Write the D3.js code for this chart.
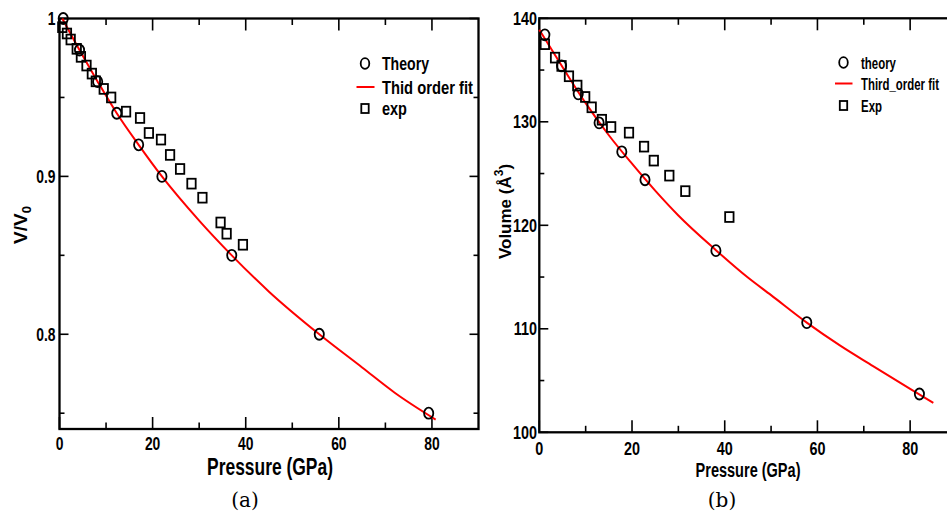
<!DOCTYPE html>
<html><head><meta charset="utf-8">
<script src="https://cdn.jsdelivr.net/npm/d3@7"></script>
<style>
body{margin:0;background:#fff;}
svg{display:block;}
</style></head>
<body><svg id="c" width="947" height="513"></svg>
<script>
// ---------- data (a) ----------
const theoryP_a = [0.8, 4.3, 8.2, 12.3, 17.0, 22.0, 37.0, 55.8, 79.3];
const theoryV_a = [1.0, 0.980, 0.960, 0.940, 0.920, 0.900, 0.850, 0.800, 0.750];
const expP_a = [0.6, 1.6, 2.4, 3.7, 4.6, 5.8, 6.95, 7.8, 9.5, 11.1, 14.3, 17.3, 19.2, 21.8, 23.75, 25.9, 28.35, 30.7, 34.6, 35.9, 39.4];
const expV_a = [0.9945, 0.9905, 0.9867, 0.9808, 0.9757, 0.9702, 0.9651, 0.9602, 0.9554, 0.9500, 0.9410, 0.9370, 0.9275, 0.9233, 0.9136, 0.9047, 0.8954, 0.8865, 0.8708, 0.8637, 0.8567];
const fitP_a = [0.6, 4.3, 8.2, 12.3, 17.0, 22.0, 30.0, 37.0, 45.0, 55.8, 65.0, 72.0, 80.8];
const fitV_a = [1.0, 0.980, 0.960, 0.940, 0.920, 0.900, 0.872, 0.850, 0.827, 0.800, 0.779, 0.763, 0.746];
const xTicks_a = [0, 20, 40, 60, 80];
const xMinor_a = [10, 30, 50, 70];
const yTicks_a = [0.8, 0.9, 1.0];
const yTickLabels_a = ["0.8", "0.9", "1"];
const yMinor_a = [0.75, 0.85, 0.95];
const legend_a = ["Theory", "Thid order fit", "exp"];

// ---------- data (b) ----------
const theoryP_b = [1.2, 4.8, 8.4, 12.9, 17.8, 22.8, 38.1, 57.7, 82.0];
const theoryV_b = [138.4, 135.4, 132.7, 129.9, 127.1, 124.4, 117.55, 110.6, 103.7];
const expP_b = [1.2, 3.4, 4.8, 6.4, 8.2, 9.9, 11.3, 13.5, 15.5, 19.35, 22.6, 24.7, 28.05, 31.5, 41.0];
const expV_b = [137.5, 136.2, 135.4, 134.4, 133.5, 132.4, 131.4, 130.2, 129.5, 128.95, 127.6, 126.25, 124.8, 123.3, 120.8];
const fitP_b = [0, 5, 10, 15, 20, 25, 30, 38.1, 45, 50, 57.7, 65, 72, 80, 85];
const fitV_b = [138.9, 135.3, 131.8, 128.7, 125.95, 123.35, 120.95, 117.6, 114.95, 113.25, 110.6, 108.35, 106.4, 104.2, 102.85];
const xTicks_b = [0, 20, 40, 60, 80];
const xMinor_b = [10, 30, 50, 70];
const yTicks_b = [100, 110, 120, 130, 140];
const yMinor_b = [105, 115, 125, 135];
const legend_b = ["theory", "Third_order fit", "Exp"];

const svg = d3.select("#c");
const FF = "'Liberation Sans',Arial,Helvetica,sans-serif";

// condensed bold text helper
function ntext(parent, x, y, str, fs, anchor, sx){
  return parent.append("text").attr("transform", `translate(${x},${y}) scale(${sx},1)`)
    .attr("font-family", FF).attr("font-weight", "bold").attr("font-size", fs)
    .attr("text-anchor", anchor).text(str);
}
// bold text squeezed horizontally to a given width
function wtext(parent, x, y, str, fs, anchor, w){
  const t = parent.append("text").attr("font-family", FF).attr("font-weight", "bold")
    .attr("font-size", fs).attr("text-anchor", anchor).text(str);
  const len = t.node().getComputedTextLength() || w;
  t.attr("transform", `translate(${x},${y}) scale(${w / len},1)`);
  return t;
}

function panel(o){
  const g = svg.append("g");
  const x = d3.scaleLinear().domain([0, 90]).range(o.xr);
  const y = d3.scaleLinear().domain(o.yd).range(o.yr);
  const L = o.xr[0], R = o.xr[1], T = o.yr[1], B = o.yr[0];
  const tk = g.append("g").attr("stroke", "#000").attr("stroke-width", 1.6);
  const vt = (arr, len) => arr.forEach(v => {
    tk.append("line").attr("x1", x(v)).attr("x2", x(v)).attr("y1", B).attr("y2", B - len);
    tk.append("line").attr("x1", x(v)).attr("x2", x(v)).attr("y1", T).attr("y2", T + len);
  });
  const ht = (arr, len) => arr.forEach(v => {
    tk.append("line").attr("y1", y(v)).attr("y2", y(v)).attr("x1", L).attr("x2", L + len);
    tk.append("line").attr("y1", y(v)).attr("y2", y(v)).attr("x1", R).attr("x2", R - len);
  });
  vt(o.xTicks, 12); vt(o.xMinor, 6.5);
  ht(o.yTicks, 9); ht(o.yMinor, 5);
  g.append("rect").attr("x", L).attr("y", T).attr("width", R - L).attr("height", B - T)
    .attr("fill", "none").attr("stroke", "#000").attr("stroke-width", 2.3);
  // tick labels
  o.xTicks.forEach(d => ntext(g, x(d), o.xLabY, String(d), o.tickFs, "middle", o.tsx));
  o.yTicks.forEach((d, i) => ntext(g, o.yLabX, y(d) + o.tickFs * 0.36, o.yLabels[i], o.tickFs, "end", o.tsx));
  // fit line
  const line = d3.line().x(d => x(d[0])).y(d => y(d[1])).curve(d3.curveMonotoneX);
  g.append("path").datum(d3.zip(o.fitP, o.fitV)).attr("d", line)
    .attr("fill", "none").attr("stroke", "#ff0000").attr("stroke-width", 2);
  // exp squares
  g.append("g").selectAll("rect").data(d3.zip(o.expP, o.expV)).join("rect")
    .attr("x", d => x(d[0]) - 4.2).attr("y", d => y(d[1]) - 4.9)
    .attr("width", 8.4).attr("height", 9.8)
    .attr("fill", "none").attr("stroke", "#000").attr("stroke-width", 1.8);
  // theory circles
  g.append("g").selectAll("ellipse").data(d3.zip(o.thP, o.thV)).join("ellipse")
    .attr("cx", d => x(d[0])).attr("cy", d => y(d[1])).attr("rx", 4.6).attr("ry", 5.5)
    .attr("fill", "none").attr("stroke", "#000").attr("stroke-width", 1.8);
  // legend
  const lg = o.leg;
  g.append("ellipse").attr("cx", lg.mx).attr("cy", lg.y[0]).attr("rx", 4.3).attr("ry", 5.3)
    .attr("fill", "none").attr("stroke", "#000").attr("stroke-width", 1.8);
  g.append("line").attr("x1", lg.lx[0]).attr("x2", lg.lx[1]).attr("y1", lg.y[1]).attr("y2", lg.y[1])
    .attr("stroke", "#ff0000").attr("stroke-width", 2);
  g.append("rect").attr("x", lg.mx - 3.7).attr("y", lg.y[2] - 4.5).attr("width", 7.4).attr("height", 9)
    .attr("fill", "none").attr("stroke", "#000").attr("stroke-width", 1.8);
  o.legText.forEach((t, i) => wtext(g, lg.tx, lg.y[i] + lg.fs * 0.36, t, lg.fs, "start", lg.w[i]));
  // x title
  wtext(g, o.xt[0], o.xt[1], "Pressure (GPa)", o.xt[2], "middle", o.xt[3]);
  // caption
  g.append("text").attr("x", o.cap[0]).attr("y", 507).attr("text-anchor", "middle")
    .attr("font-family", "'DejaVu Serif','Liberation Serif',serif").attr("font-size", 20).text(o.cap[1]);
  return g;
}

panel({
  xr: [59.5, 478.5], yd: [0.74, 1.0], yr: [429, 18.5],
  xTicks: xTicks_a, xMinor: xMinor_a, yTicks: yTicks_a, yMinor: yMinor_a, yLabels: yTickLabels_a,
  xLabY: 449.5, yLabX: 55.5, tickFs: 18, tsx: 0.77,
  thP: theoryP_a, thV: theoryV_a, expP: expP_a, expV: expV_a, fitP: fitP_a, fitV: fitV_a,
  leg: {mx: 365, lx: [356.5, 374.5], tx: 382, y: [63.5, 87, 108.5], fs: 19, w: [47, 91, 25]},
  legText: legend_a,
  xt: [270, 475, 24, 126], cap: [245, "(a)"]
});
panel({
  xr: [539.3, 956.5], yd: [100, 140], yr: [432.3, 18.3],
  xTicks: xTicks_b, xMinor: xMinor_b, yTicks: yTicks_b, yMinor: yMinor_b, yLabels: yTicks_b.map(String),
  xLabY: 454.5, yLabX: 537, tickFs: 18, tsx: 0.8,
  thP: theoryP_b, thV: theoryV_b, expP: expP_b, expV: expV_b, fitP: fitP_b, fitV: fitV_b,
  leg: {mx: 843.5, lx: [835, 852.5], tx: 861, y: [62.5, 83.5, 105.5], fs: 17, w: [35, 78, 21]},
  legText: legend_b,
  xt: [748, 476.5, 20, 105], cap: [722, "(b)"]
});

// y titles
const ya = svg.append("text").attr("transform", "translate(27,225) rotate(-90)")
  .attr("text-anchor", "middle").attr("font-family", FF)
  .attr("font-weight", "bold").attr("font-size", 19);
ya.append("tspan").text("V/V");
ya.append("tspan").attr("font-size", 13).attr("dy", 4).text("0");

const yb = svg.append("text").attr("transform", "translate(511,211.5) rotate(-90)")
  .attr("text-anchor", "middle").attr("font-family", FF)
  .attr("font-weight", "bold").attr("font-size", 17);
yb.append("tspan").text("Volume (Å");
yb.append("tspan").attr("font-size", 12).attr("dy", -8).text("3");
yb.append("tspan").attr("dy", 8).text(")");
</script></body></html>
